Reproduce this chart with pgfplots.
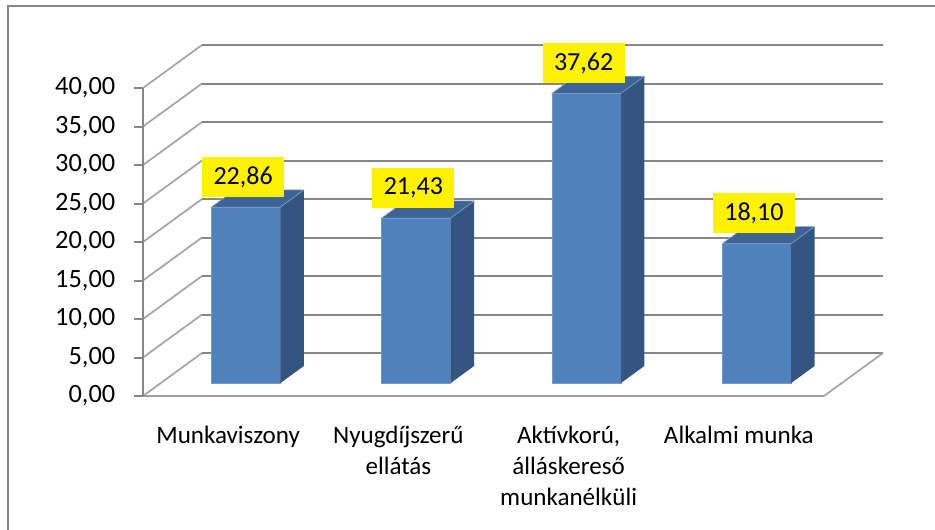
\documentclass[border=0pt]{standalone}
\usepackage{pgfplots}
\pgfplotsset{compat=1.18}
\usepackage{fontspec}
\setmainfont{Carlito}
\definecolor{gridgray}{RGB}{134,134,134}
\definecolor{diaggray}{RGB}{166,166,166}
\definecolor{floorgray}{RGB}{160,160,160}
\definecolor{barfront}{RGB}{79,129,189}
\definecolor{barside}{RGB}{52,85,128}
\definecolor{bartop}{RGB}{62,100,150}
% depth offsets (data units): Dx = 0.3466 category, Dy = 5.584 value units
\newcommand{\barthreed}[2]{%
  \pgfmathsetmacro\xl{#1+0.5-0.2026+0.104}%
  \pgfmathsetmacro\xr{#1+0.5+0.2026+0.104}%
  \pgfmathsetmacro\xlb{#1+0.5-0.2026+0.2426}%
  \pgfmathsetmacro\xrb{#1+0.5+0.2026+0.2426}%
  \pgfmathsetmacro\yb{1.674}%
  \pgfmathsetmacro\yt{#2+1.674}%
  \pgfmathsetmacro\ybb{3.906}%
  \pgfmathsetmacro\ytb{#2+3.906}%
  \addplot[fill=barfront, draw=barfront!80!white, line width=0.4pt] coordinates {(\xl,\yb) (\xr,\yb) (\xr,\yt) (\xl,\yt)} -- cycle;
  \addplot[fill=barside, draw=none] coordinates {(\xr,\yb) (\xrb,\ybb) (\xrb,\ytb) (\xr,\yt)} -- cycle;
  \addplot[fill=bartop, draw=barfront!70!white, line width=0.4pt] coordinates {(\xl,\yt) (\xr,\yt) (\xrb,\ytb) (\xlb,\ytb)} -- cycle;
}
\begin{document}
\begin{tikzpicture}
\useasboundingbox (-107.25pt,-99.75pt) rectangle (594pt,297pt);
\fill[white] (-107.25pt,-99.75pt) rectangle (594pt,297pt);
\draw[gridgray, line width=1.5pt] (-101.6pt,-110pt) -- (-101.6pt,292.5pt) -- (600pt,292.5pt);
\begin{axis}[
  x=127.6875pt, y=5.775pt,
  xmin=0, xmax=4.3466, ymin=0, ymax=45.584,
  clip=false,
  axis line style={draw=none},
  tick align=outside,
  ytick={0,5,...,40},
  ytick pos=left,
  xtick pos=bottom,
  xtick={0.5,1.5,2.5,3.5},
  xticklabels={Munkaviszony,{Nyugdíjszerű\\ellátás},{Aktívkorú,\\álláskereső\\munkanélküli},Alkalmi munka},
  x tick style={draw=none},
  major tick length=6.75pt,
  y tick style={gridgray, line width=1.5pt},
  extra x ticks={0,1,2,3,4},
  extra x tick labels={},
  extra x tick style={tick style={draw=gridgray, line width=1.5pt}, major tick length=6pt},
  tick label style={font=\fontsize{18.8}{23.25}\selectfont, text=black},
  xticklabel style={align=center, anchor=north, yshift=-12pt},
  yticklabel style={xshift=-10.5pt, font=\fontsize{19.8}{23}\selectfont,
    /pgf/number format/fixed, /pgf/number format/fixed zerofill,
    /pgf/number format/precision=2, /pgf/number format/use comma,
    /pgf/number format/assume math mode=true},
]
% side-wall diagonals and back-wall gridlines
\pgfplotsinvokeforeach{0,5,10,15,20,25,30,35,40}{
  \pgfmathsetmacro\yy{#1+5.584}
  \addplot[diaggray, line width=1.3pt] coordinates {(0,#1) (0.3466,\yy)};
  \addplot[gridgray, line width=1.5pt] coordinates {(0.3466,\yy) (4.3466,\yy)};
}
% floor
\addplot[floorgray, line width=1.5pt] coordinates {(0,0) (4,0)};
\addplot[diaggray, line width=1.3pt] coordinates {(4,0) (4.3466,5.584)};
% front value axis
\addplot[gridgray, line width=1.5pt] coordinates {(0,0) (0,40)};
% bars
\barthreed{0}{22.86}
\barthreed{1}{21.43}
\barthreed{2}{37.62}
\barthreed{3}{18.10}
% data labels
\addplot[draw=none, mark=none, nodes near coords, point meta=explicit symbolic,
  nodes near coords style={fill=yellow, text=black, anchor=south, yshift=7.5pt, xshift=-2pt,
    inner xsep=8.5pt, minimum height=30pt, font=\fontsize{19.5}{22}\selectfont}]
  coordinates {(0.604,24.534) [{22,86}] (1.604,23.104) [{21,43}] (2.604,39.294) [{37,62}] (3.604,19.774) [{18,10}]};
\end{axis}
\end{tikzpicture}
\end{document}
